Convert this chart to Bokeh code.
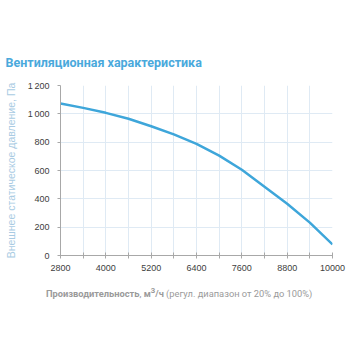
from bokeh.plotting import figure
from bokeh.models import FixedTicker, Range1d, Div
from bokeh.layouts import column
from bokeh.embed import file_html
from bokeh.resources import INLINE

# data
flow = [2800, 3400, 4000, 4600, 5200, 5800, 6400, 7000, 7600, 8200, 8800, 9400, 10000]
pressure = [1073, 1042, 1007, 965, 912, 855, 788, 705, 605, 485, 365, 232, 78]

x_ticks = [2800, 3400, 4000, 4600, 5200, 5800, 6400, 7000, 7600, 8200, 8800, 9400, 10000]
x_tick_labels = ["2800", "", "4000", "", "5200", "", "6400", "", "7600", "", "8800", "", "10000"]
y_ticks = [0, 200, 400, 600, 800, 1000, 1200]
y_tick_labels = ["0", "200", "400", "600", "800", "1\u2009000", "1\u2009200"]

title_text = "Вентиляционная характеристика"
y_label_text = "Внешнее статическое давление, Па"
x_label_bold = "Производительность"
x_label_unit = "м<sup>3</sup>/ч"
x_label_rest = "(регул. диапазон от 20% до 100%)"

W, H1 = 356, 284
p = figure(width=W, height=H1, output_backend="svg", toolbar_location=None,
           x_range=Range1d(2800, 10000), y_range=Range1d(0, 1200),
           min_border_left=60, min_border_right=24, min_border_top=85,
           min_border_bottom=H1 - 255)
p.outline_line_color = None
p.background_fill_color = "white"
p.border_fill_color = "white"

p.line(flow, pressure, line_color="#3ea6da", line_width=2.5)

p.title.text = title_text
p.title.text_font = "Roboto"
p.title.text_font_style = "bold"
p.title.text_font_size = "12.5px"
p.title.text_color = "#4aa9dc"
p.title.align = "left"
p.title.offset = -55
p.title.standoff = 31

tick_font = "Liberation Sans"
p.xaxis.ticker = FixedTicker(ticks=x_ticks)
p.xaxis.major_label_overrides = {t: l for t, l in zip(x_ticks, x_tick_labels)}
p.yaxis.ticker = FixedTicker(ticks=y_ticks)
p.yaxis.major_label_overrides = {t: l for t, l in zip(y_ticks, y_tick_labels)}
for ax in (p.xaxis[0], p.yaxis[0]):
    ax.axis_line_color = "#a8a8a8"
    ax.axis_line_width = 1
    ax.major_tick_line_color = "#a8a8a8"
    ax.minor_tick_line_color = None
    ax.major_label_text_font = tick_font
    ax.major_label_text_font_size = "9px"
    ax.major_label_text_color = "#404040"
p.xaxis.major_tick_in = 3
p.xaxis.major_tick_out = 3
p.xaxis.major_label_standoff = 6
p.yaxis.major_tick_in = 0
p.yaxis.major_tick_out = 3
p.yaxis.major_label_standoff = 8
p.yaxis.axis_label = y_label_text
p.yaxis.axis_label_text_font = "Liberation Sans"
p.yaxis.axis_label_text_font_style = "normal"
p.yaxis.axis_label_text_font_size = "10.5px"
p.yaxis.axis_label_text_color = "#a9cbe3"
p.yaxis.axis_label_standoff = 8

p.xgrid.ticker = FixedTicker(ticks=x_ticks)
p.ygrid.ticker = FixedTicker(ticks=y_ticks)
p.grid.grid_line_color = "#dfeaf4"
p.grid.grid_line_width = 1

xlabel = Div(
    text=f"<b>{x_label_bold}</b>, <b>{x_label_unit}</b> {x_label_rest}",
    width=W - 46, height=14, margin=(1, 0, 0, 46),
    styles={"font-family": "Roboto", "font-size": "9.3px", "line-height": "12px",
            "color": "#9a9a9a", "white-space": "nowrap"},
)

layout = column(p, xlabel, spacing=0)
open("out.html", "w").write(file_html(layout, INLINE))
